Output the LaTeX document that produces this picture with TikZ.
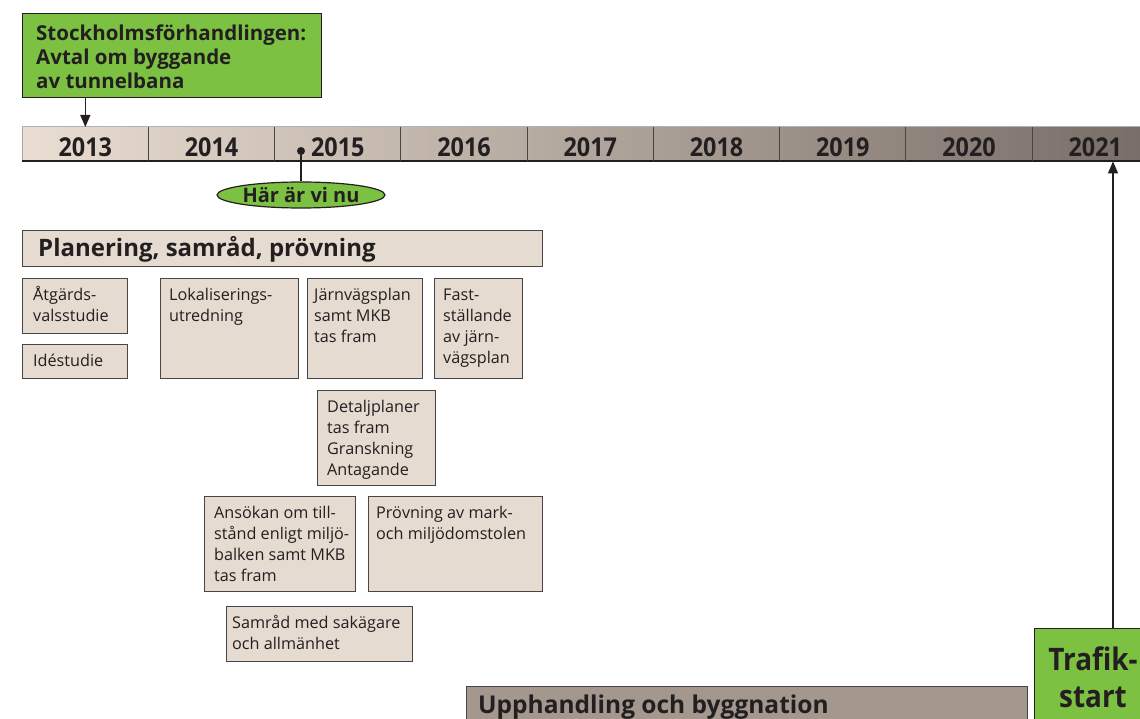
\documentclass[tikz,border=0pt]{standalone}
\usepackage{fontspec}
\setmainfont{Open Sans}
\newfontfamily\condfont{Open Sans}[FakeStretch=0.9]
\usetikzlibrary{calc,shapes.geometric,arrows.meta}
\definecolor{grn}{HTML}{7CC142}
\definecolor{beige}{HTML}{E6DBD0}
\definecolor{ink}{HTML}{231F20}
\definecolor{edge}{HTML}{4A4544}
\definecolor{tlL}{HTML}{EADED2}
\definecolor{tlR}{HTML}{776C66}
\definecolor{upp}{HTML}{A3978E}
\tikzset{
  box/.style={draw=edge, line width=0.9pt, fill=beige, anchor=north west, inner sep=0pt, outer sep=0pt},
  txt/.style={anchor=north west, align=left, inner sep=0pt, text=ink, font=\fontsize{16.2}{21}\selectfont},
  yearlbl/.style={anchor=base, inner sep=0pt, text=ink, font=\condfont\bfseries\fontsize{26}{26}\selectfont},
  cell/.style={anchor=north west, inner sep=0pt, minimum width=126.25, minimum height=34},
  arr/.style={draw=ink, line width=1.2pt, -{Triangle[width=10pt,length=12pt]}},
  conn/.style={draw=ink, line width=1.2pt},
}
\newcommand\tb[7]{%
  \node[box, minimum width=#4, minimum height=#5] (#1) at (#2,#3) {};
  \node[txt] (#1t) at ($(#1.north west)+(#6,6)$) {\rule{0pt}{16pt}#7};
}
\begin{document}
\begin{tikzpicture}[x=1pt,y=-1pt]
\useasboundingbox (0,0) rectangle (1140,719);
\clip (0,0) rectangle (1140,719);

% timeline bar
\shade[left color=tlL, right color=tlR] (22,127) rectangle (1160,161);
\draw[gray!60, line width=1pt] (22,127) -- (1160,127);
\draw[gray!70, line width=0.8pt] (22,127) -- (22,161);
\draw[ink, line width=1.3pt] (22,161) -- (1160,161);
\foreach \yr [count=\i from 0] in {2013,2014,2015,2016,2017,2018,2019,2020,2021}{
  \node[cell] (c\yr) at (22+126.25*\i,127) {};
  \node[yearlbl] (y\yr) at ($(c\yr.north)+(0,30)$) {\yr};
}
\foreach \yr in {2014,2015,2016,2017,2018,2019,2020,2021}{
  \draw[edge, line width=0.8pt] (c\yr.north west) -- (c\yr.south west);
}

% top green box
\node[draw=ink, line width=1.2pt, fill=grn, anchor=north west, minimum width=299, minimum height=84, inner sep=0pt] (stock) at (22,13) {};
\node[anchor=north west, align=left, inner sep=0pt, text=ink, font=\bfseries\fontsize{20.5}{24}\selectfont] (stockt) at ($(stock.north west)+(14,11)$) {\rule{0pt}{16pt}Stockholmsförhandlingen:\\Avtal om byggande\\av tunnelbana};
\draw[arr] (c2013.north |- stock.south) -- (c2013.north);

% here we are
\node[circle, fill=ink, inner sep=0pt, minimum size=8] (now) at (301,151) {};
\node[ellipse, draw=ink, line width=1.2pt, fill=grn, minimum width=168, minimum height=26, inner sep=0pt, text=ink, font=\bfseries\fontsize{20}{20}\selectfont] (here) at (301,195) {Här är vi nu};
\draw[conn] (now) -- (here.north);

% planning header
\node[box, minimum width=520, minimum height=36] (plan) at (22,230) {};
\node[anchor=base west, inner sep=0pt, text=ink, font=\bfseries\fontsize{24}{24}\selectfont] (plant) at (38,257) {Planering, samråd, prövning};

% boxes
\tb{atg}{22}{278}{105}{55}{11}{Åtgärds-\\valsstudie}
\tb{ide}{22}{344}{105}{34}{11}{Idéstudie}
\tb{lok}{160}{278}{138}{100}{9}{Lokaliserings-\\utredning}
\tb{jvp}{307}{278}{115}{100}{7}{Järnvägsplan\\samt MKB\\tas fram}
\tb{fast}{434}{278}{88}{100}{9}{Fast-\\ställande\\av järn-\\vägsplan}
\tb{det}{317}{390}{118}{95}{10}{Detaljplaner\\tas fram\\Granskning\\Antagande}
\tb{ans}{204}{496}{151}{95}{10}{Ansökan om till-\\stånd enligt miljö-\\balken samt MKB\\tas fram}
\tb{prov}{368}{496}{174}{95}{8}{Prövning av mark-\\och miljödomstolen}
\tb{sam}{226}{606}{186}{55}{6}{Samråd med sakägare\\och allmänhet}

% procurement
\node[box, fill=upp, minimum width=561, minimum height=50] (upph) at (466,686) {};
\node[anchor=base west, inner sep=0pt, text=ink, font=\bfseries\fontsize{24.5}{24.5}\selectfont] (uppht) at (478,713) {Upphandling och byggnation};

% traffic start
\node[draw=ink, line width=1.2pt, fill=grn, anchor=north west, minimum width=130, minimum height=110, inner sep=0pt] (traf) at (1034,628) {};
\node[anchor=north, align=center, inner sep=0pt, text=ink, font=\condfont\bfseries\fontsize{31}{37}\selectfont] (traft) at (1093,647) {\rule{0pt}{23pt}Trafik-\\start};
\coordinate (tA) at (1113,0);
\draw[arr] (tA |- traf.north) -- (tA |- c2021.south);
\end{tikzpicture}
\end{document}
